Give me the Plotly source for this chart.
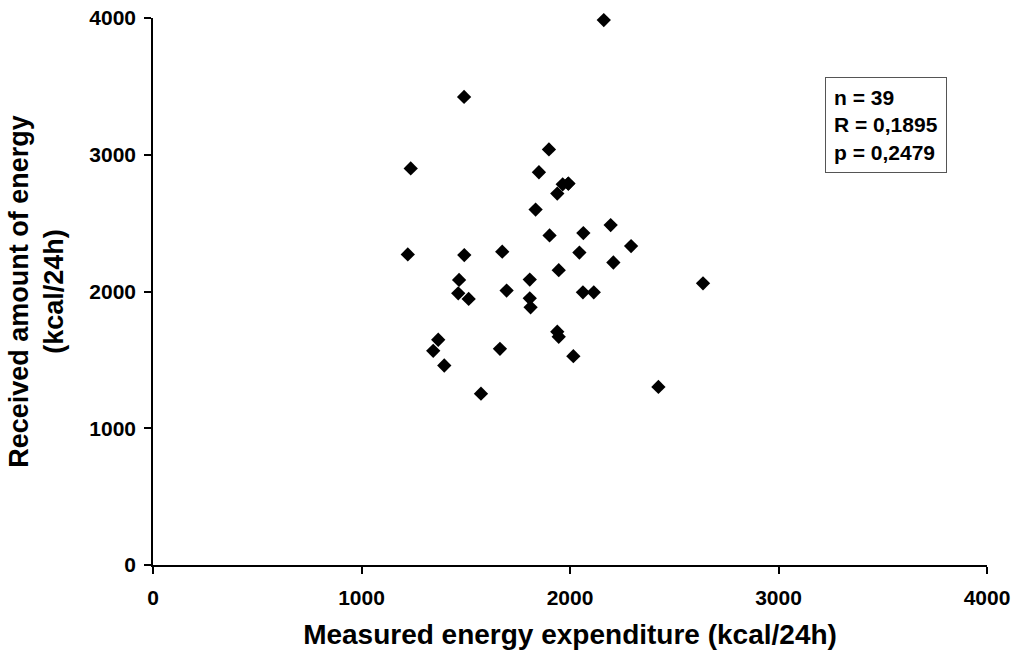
import plotly.graph_objects as go

measured = [2162, 1492, 1236, 1899, 1851, 1965, 1992, 1939, 1835, 2195,
            1902, 2064, 2293, 1675, 2045, 2208, 1946, 1807, 1696, 2062,
            2114, 1807, 1811, 1939, 1946, 1664, 2016, 2424, 2638, 1573,
            1222, 1493, 1468, 1464, 1514, 1368, 1344, 1397, 1992]
received = [3985, 3423, 2900, 3039, 2872, 2784, 2789, 2716, 2599, 2486,
            2410, 2427, 2332, 2291, 2285, 2212, 2156, 2087, 2007, 1994,
            1994, 1950, 1884, 1706, 1669, 1581, 1527, 1302, 2060, 1253,
            2271, 2266, 2085, 1987, 1946, 1647, 1566, 1459, 2789]
tick_vals = [0, 1000, 2000, 3000, 4000]
stats_text = "n = 39<br>R = 0,1895<br>p = 0,2479"

fig = go.Figure()
fig.add_trace(go.Scatter(
    x=measured, y=received, mode="markers",
    marker=dict(symbol="diamond", size=11, color="black"),
    cliponaxis=False, showlegend=False))

font_fam = "Liberation Sans, Arial, sans-serif"
axis_common = dict(
    range=[0, 4000], tickvals=tick_vals, showgrid=False, zeroline=False,
    showline=True, linecolor="black", linewidth=1.5,
    ticks="outside", ticklen=7, tickcolor="black", tickwidth=1.5,
    ticklabeloverflow="allow", automargin=False,
    tickfont=dict(family=font_fam, size=21, color="black", weight="bold"),
)
fig.update_xaxes(**axis_common, ticklabelstandoff=6,
    title=dict(text="Measured energy expenditure (kcal/24h)",
               font=dict(family=font_fam, size=28, color="black", weight="bold"),
               standoff=16))
fig.update_yaxes(**axis_common, ticklabelstandoff=4,
    title=dict(text="Received amount of energy<br>(kcal/24h)",
               font=dict(family=font_fam, size=27, color="black", weight="bold"),
               standoff=18))

fig.add_annotation(
    xref="paper", yref="paper", x=0.806, y=0.892, xanchor="left", yanchor="top",
    text=stats_text, showarrow=False, align="left",
    font=dict(family=font_fam, size=21, color="black", weight="bold"),
    bordercolor="#555", borderwidth=1, borderpad=8, bgcolor="white")

fig.update_layout(
    width=1023, height=658,
    margin=dict(l=153, r=36, t=18, b=93, autoexpand=False),
    plot_bgcolor="white", paper_bgcolor="white",
)
fig.write_html("out.html", config={"displayModeBar": False},
               post_script="document.body.style.margin='0';document.body.style.overflow='hidden';")
